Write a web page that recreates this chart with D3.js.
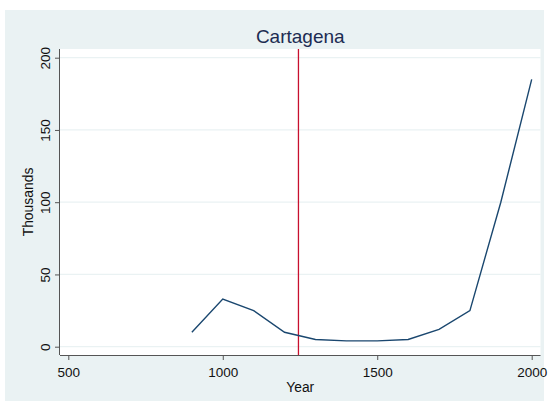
<!DOCTYPE html>
<html>
<head>
<meta charset="utf-8">
<script src="https://cdn.jsdelivr.net/npm/d3@7"></script>
<style>
  body { margin: 0; background: #fff; }
  text { font-family: "Liberation Sans", Arial, sans-serif; }
</style>
</head>
<body>
<div id="chart-area"></div>
<script>
// Cartagena population (thousands) by year
var years = [900, 1000, 1100, 1200, 1300, 1400, 1500, 1600, 1700, 1800, 1900, 2000];
var thousands = [10, 33, 25, 10, 5, 4, 4, 5, 12, 25, 100, 185];
var markYear = 1245;
var xTicks = [500, 1000, 1500, 2000];
var yTicks = [0, 50, 100, 150, 200];

var width = 550;
var height = 401;
var margin = { top: 49, right: 9.5, bottom: 46, left: 60 };
var chartWidth = width - margin.left - margin.right;
var chartHeight = height - margin.top - margin.bottom;
var fontFamily = "'Liberation Sans', Arial, sans-serif";

var svg = d3.select("#chart-area")
  .append("svg")
  .attr("width", width)
  .attr("height", height);

// outer background
svg.append("rect")
  .attr("x", 5).attr("y", 10)
  .attr("width", 539).attr("height", 391)
  .attr("fill", "#eaf2f3");

var g = svg.append("g")
  .attr("transform", "translate(" + margin.left + ", " + margin.top + ")");

g.append("rect")
  .attr("width", chartWidth)
  .attr("height", chartHeight)
  .attr("fill", "#fff");

var x = d3.scaleLinear()
  .domain([500, 2000])
  .range([8.3, 471.7]);

var y = d3.scaleLinear()
  .domain([0, 200])
  .range([297.7, 8.7]);

// grid
g.selectAll(".grid")
  .data(yTicks).enter()
  .append("line")
  .attr("class", "grid")
  .attr("x1", 0).attr("x2", chartWidth)
  .attr("y1", d => y(d)).attr("y2", d => y(d))
  .attr("stroke", "#eaf2f3")
  .attr("stroke-width", 1.2);

// reference line
g.append("line")
  .attr("x1", x(markYear)).attr("x2", x(markYear))
  .attr("y1", 0).attr("y2", chartHeight)
  .attr("stroke", "#c8102e")
  .attr("stroke-width", 1.3);

var line = d3.line()
  .x((d, i) => x(years[i]))
  .y(d => y(d));

g.append("path")
  .datum(thousands)
  .attr("d", line)
  .attr("fill", "none")
  .attr("stroke", "#1a476f")
  .attr("stroke-width", 1.4);

// axes
var bottomAxis = d3.axisBottom(x).tickValues(xTicks).tickFormat(d3.format("d")).tickSize(5).tickSizeOuter(0);
var xg = g.append("g")
  .attr("transform", "translate(0, " + chartHeight + ")")
  .call(bottomAxis);
xg.select(".domain").attr("d", "M0,0.5H" + chartWidth).attr("stroke", "#555");
xg.selectAll(".tick line").attr("stroke", "#555");
xg.selectAll("text")
  .attr("y", 22.3).attr("dy", 0)
  .attr("font-size", "13.5px")
  .attr("fill", "#111")
  .style("font-family", fontFamily);

var leftAxis = d3.axisLeft(y).tickValues(yTicks).tickFormat(d3.format("d")).tickSize(5).tickSizeOuter(0);
var yg = g.append("g")
  .call(leftAxis);
yg.select(".domain").attr("d", "M-0.5,0V" + chartHeight).attr("stroke", "#555");
yg.selectAll(".tick line").attr("stroke", "#555");
yg.selectAll("text")
  .attr("font-size", "13.5px")
  .attr("fill", "#111")
  .attr("text-anchor", "middle")
  .attr("x", 0).attr("dy", 0)
  .attr("transform", "translate(-10, 0) rotate(-90)")
  .style("font-family", fontFamily);

svg.append("text")
  .attr("x", -(margin.top + chartHeight / 2))
  .attr("y", 33.3)
  .attr("text-anchor", "middle")
  .attr("transform", "rotate(-90)")
  .attr("font-size", "13.9px")
  .attr("fill", "#111")
  .text("Thousands");

svg.append("text")
  .attr("x", margin.left + chartWidth / 2)
  .attr("y", 391.7)
  .attr("text-anchor", "middle")
  .attr("font-size", "13.8px")
  .attr("fill", "#111")
  .text("Year");

svg.append("text")
  .attr("x", margin.left + chartWidth / 2)
  .attr("y", 42.7)
  .attr("text-anchor", "middle")
  .attr("font-size", "19px")
  .attr("fill", "#1c2c52")
  .text("Cartagena");
</script>
</body>
</html>
